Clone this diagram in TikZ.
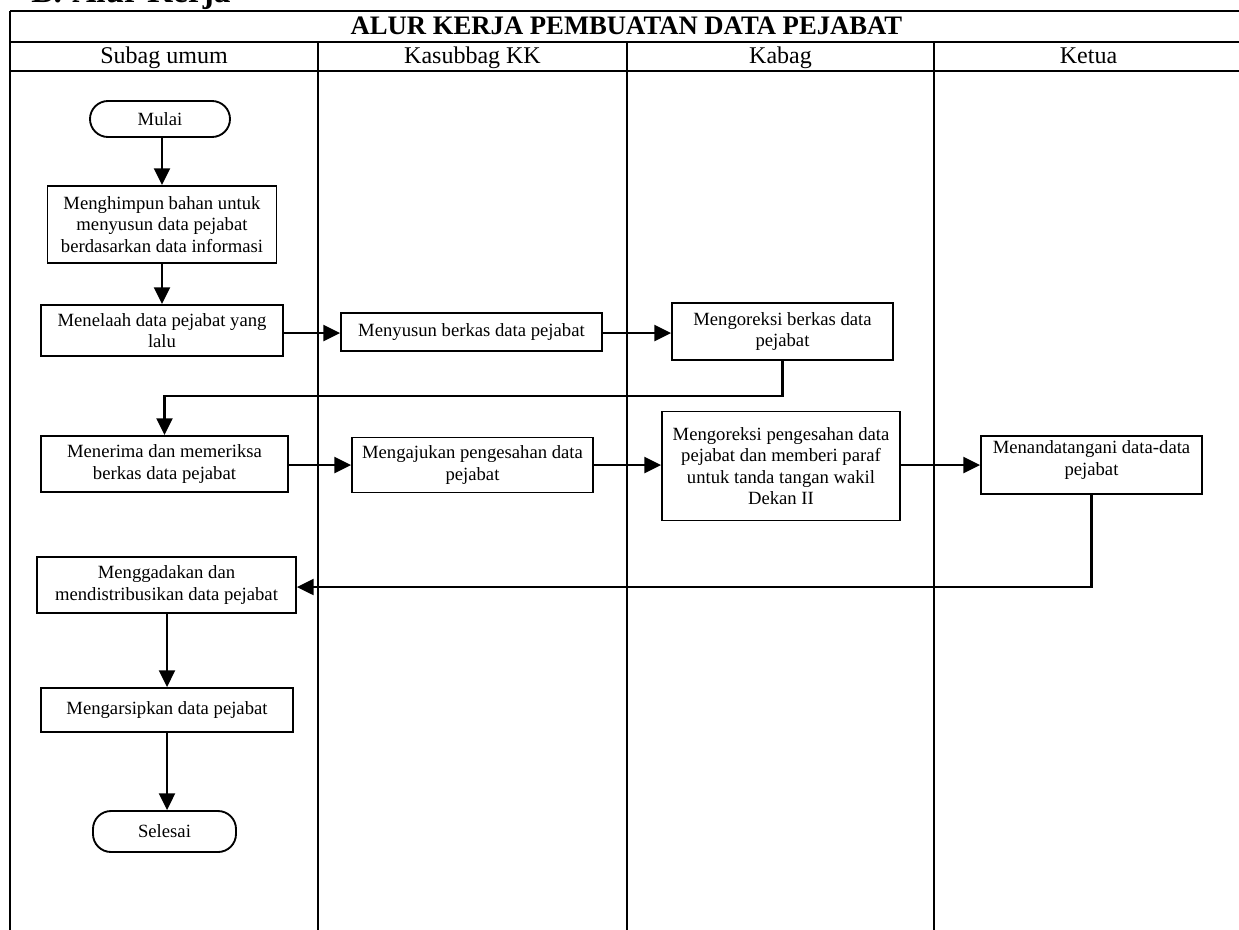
\documentclass[tikz,border=0pt]{standalone}
\usepackage{fontspec}
\setmainfont{Liberation Serif}
\usetikzlibrary{arrows.meta}
\newcommand\myBody{\fontsize{14}{16.1}\selectfont}
\newcommand\myHdr{\fontsize{18}{20}\selectfont}
\newcommand\myTitle{\fontsize{20}{22}\selectfont\bfseries}
\newcommand\myHead{\fontsize{25}{27}\selectfont\bfseries}
\begin{document}
\begin{tikzpicture}[x=0.75pt,y=-0.75pt,
  tline/.style={line width=1.6pt},
  box/.style={draw, line width=1.4pt, inner sep=0pt, align=center, font=\myBody},
  term/.style={box, rounded corners=13.5pt},
  arr/.style={line width=1.6pt, -{Triangle[length=12.5pt,width=12pt]}}]
\useasboundingbox (0,0) rectangle (1239,929);
\fill[white] (0,0) rectangle (1239,929);

% heading (clipped at top in the reference)
\node[anchor=base west, inner sep=0pt, font=\myHead] (hb) at (31,2.5) {B.};
\node[anchor=base west, inner sep=0pt, font=\myHead] (ha) at (72,2.5) {Alur Kerja};

% table frame
\draw[tline] (10,11) -- (1243,11);
\draw[tline] (10,42) -- (1243,42);
\draw[tline] (10,71) -- (1243,71);
\draw[tline] (10,11) -- (10,940);
\draw[tline] (1243,11) -- (1243,940);
\draw[tline] (318,42) -- (318,940);
\draw[tline] (627,42) -- (627,940);
\draw[tline] (934,42) -- (934,940);

\node[anchor=base, inner sep=0pt, font=\myTitle] (title) at (626.5,34) {ALUR KERJA PEMBUATAN DATA PEJABAT};
\node[anchor=base, inner sep=0pt, font=\myHdr] (c1) at (164,63) {Subag umum};
\node[anchor=base, inner sep=0pt, font=\myHdr] (c2) at (472.5,63) {Kasubbag KK};
\node[anchor=base, inner sep=0pt, font=\myHdr] (c3) at (780.5,63) {Kabag};
\node[anchor=base, inner sep=0pt, font=\myHdr] (c4) at (1088.5,63) {Ketua};

% nodes
\node[term, minimum width=140*0.75pt, minimum height=36*0.75pt] (mulai) at (160,119) {Mulai};
\node[box, minimum width=229*0.75pt, minimum height=77*0.75pt] (su1) at (162,224.5)
  {Menghimpun bahan untuk\\menyusun data pejabat\\berdasarkan data informasi};
\node[box, minimum width=242*0.75pt, minimum height=51*0.75pt] (su2) at (162,330.5)
  {Menelaah data pejabat yang\\lalu};
\node[box, minimum width=261*0.75pt, minimum height=38*0.75pt] (ks1) at (471.5,332)
  {Menyusun berkas data pejabat};
\node[box, minimum width=221*0.75pt, minimum height=57*0.75pt] (kb1) at (782.5,331.5)
  {Mengoreksi berkas data\\pejabat};
\node[box, minimum width=247*0.75pt, minimum height=56*0.75pt] (su3) at (164.5,464)
  {Menerima dan memeriksa\\berkas data pejabat};
\node[box, minimum width=241*0.75pt, minimum height=55*0.75pt] (ks2) at (472.5,465)
  {Mengajukan pengesahan data\\pejabat};
\node[box, minimum width=238*0.75pt, minimum height=109*0.75pt] (kb2) at (781,466)
  {Mengoreksi pengesahan data\\pejabat dan memberi paraf\\untuk tanda tangan wakil\\Dekan II};
\node[box, minimum width=221*0.75pt, minimum height=58*0.75pt] (kt1) at (1091.5,465) {};
\node[inner sep=0pt, align=center, font=\myBody] (kt1t) at (1091.5,460)
  {Menandatangani data-data\\pejabat};
\node[box, minimum width=259*0.75pt, minimum height=56*0.75pt] (su4) at (166.5,585)
  {Menggadakan dan\\mendistribusikan data pejabat};
\node[box, minimum width=252*0.75pt, minimum height=44*0.75pt] (su5) at (167,710)
  {Mengarsipkan data pejabat};
\node[term, minimum width=143*0.75pt, minimum height=41*0.75pt] (selesai) at (164.5,831.5) {Selesai};

\coordinate (fbA) at (0,396);
\coordinate (fbB) at (0,587);
\coordinate (rowA) at (0,333);
\coordinate (rowB) at (0,465);

% connectors
\draw[arr] (su1.north |- mulai.south) -- (su1.north);
\draw[arr] (su1.south) -- (su2.north);
\draw[arr] (su2.east |- rowA) -- (ks1.west |- rowA);
\draw[arr] (ks1.east |- rowA) -- (kb1.west |- rowA);
\draw[arr] (kb1.south) -- (kb1.south |- fbA) -| (su3.north);
\draw[arr] (su3.east |- rowB) -- (ks2.west |- rowB);
\draw[arr] (ks2.east |- rowB) -- (kb2.west |- rowB);
\draw[arr] (kb2.east |- rowB) -- (kt1.west |- rowB);
\draw[arr] (kt1.south) -- (kt1.south |- fbB) -- (su4.east |- fbB);
\draw[arr] (su4.south -| su5.north) -- (su5.north);
\draw[arr] (su5.south) -- (su5.south |- selesai.north);
\end{tikzpicture}
\end{document}
